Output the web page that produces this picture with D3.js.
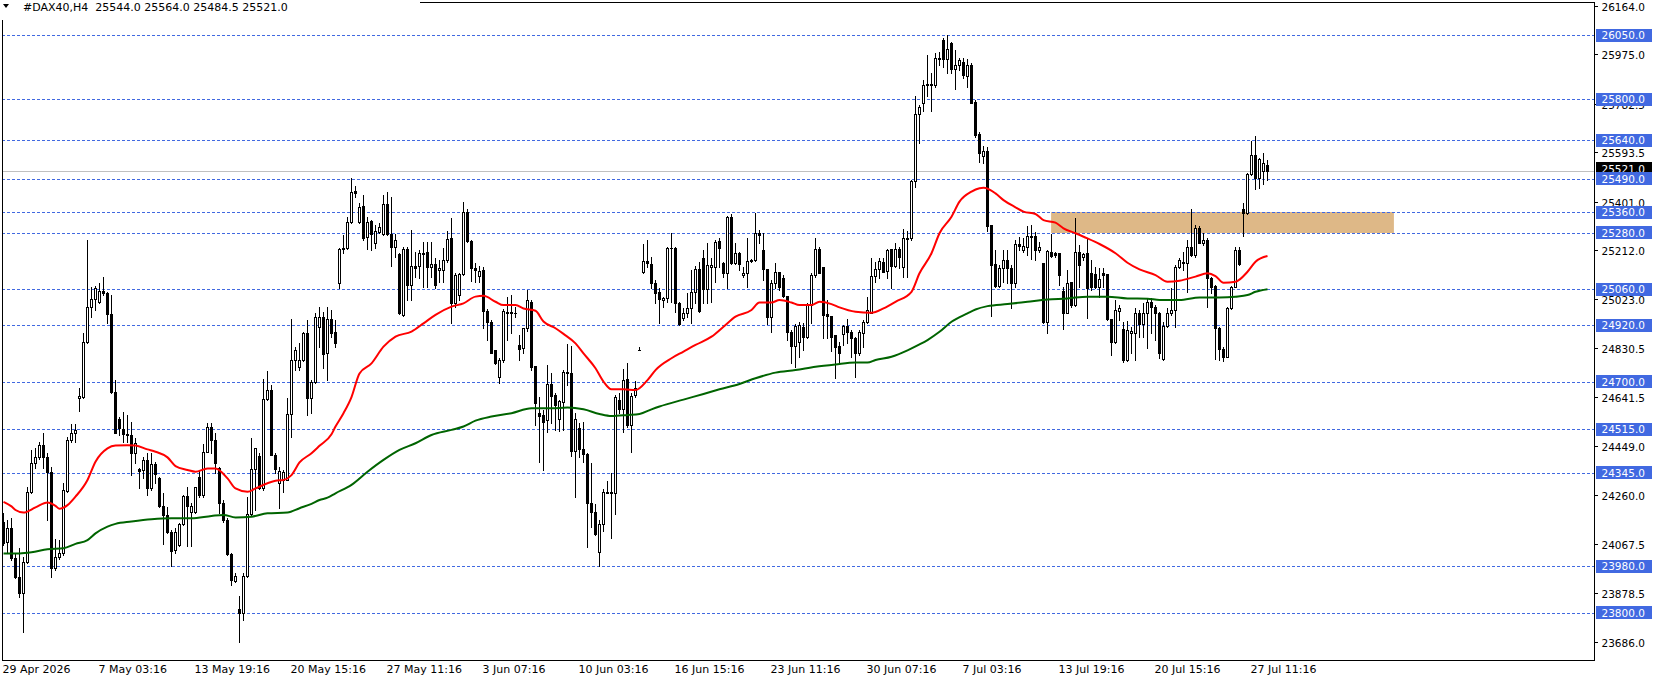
<!DOCTYPE html>
<html><head><meta charset="utf-8">
<script src="https://cdn.jsdelivr.net/npm/d3@7"></script>
<style>
html,body{margin:0;padding:0;background:#fff;}
svg{display:block;}
text{font-family:"DejaVu Sans",sans-serif;font-size:10.5px;}
text.big{font-size:11px;}
</style>
</head><body>
<svg id="c" width="1658" height="684"></svg>
<script>
// ---------- DATA ----------
const header = "#DAX40,H4  25544.0 25564.0 25484.5 25521.0";
const lastPrice = 25521.0;
// rows: [open, high, low, close], one per H4 bar
const ohlc = [
[24155,24187,24064,24070],[24077,24161,24031,24129],[24129,24168,24005,24012],[24012,24031,23934,23940],[23940,24051,23863,23878],
[23878,24018,23725,23999],[23999,24291,23992,24271],[24271,24434,24265,24384],[24384,24443,24362,24408],[24408,24466,24400,24453],
[24453,24501,24362,24408],[24408,24421,24161,24349],[24349,24369,23940,23973],[23973,24086,23966,24016],[24016,24083,24010,24031],
[24031,24304,24025,24278],[24275,24486,24271,24473],[24473,24535,24466,24499],[24499,24535,24466,24512],[24635,24674,24587,24644],
[24641,24888,24635,24856],[24856,25252,24852,24992],[24989,25070,24953,25020],[25020,25072,24979,25063],[25009,25083,25005,25053],
[25053,25106,25037,25044],[25044,25050,24927,24962],[24962,25037,24654,24661],[24661,24706,24499,24501],[24554,24564,24492,24518],
[24515,24583,24466,24496],[24496,24570,24466,24492],[24492,24544,24336,24421],[24421,24479,24384,24462],[24358,24362,24284,24353],
[24356,24405,24323,24395],[24395,24421,24259,24284],[24284,24421,24278,24378],[24378,24388,24304,24340],[24326,24330,24213,24216],
[24216,24265,24068,24181],[24181,24213,24109,24116],[24116,24122,23982,24042],[24044,24129,24031,24116],[24064,24148,24060,24146],
[24146,24259,24142,24255],[24255,24291,24060,24216],[24194,24226,24060,24216],[24194,24291,24187,24288],[24327,24356,24252,24257],
[24257,24457,24252,24427],[24427,24540,24427,24522],[24522,24538,24421,24473],[24473,24499,24343,24382],[24362,24369,24187,24226],
[24226,24239,24155,24161],[24161,24168,24025,24029],[24029,24031,23908,23927],[23925,23953,23921,23943],[23813,23865,23685,23798],
[23798,23953,23772,23943],[23943,24252,23940,24183],[24183,24479,24181,24358],[24358,24440,24200,24440],[24410,24421,24281,24284],
[24284,24709,24278,24631],[24631,24743,24628,24667],[24667,24687,24414,24414],[24414,24421,24343,24358],[24304,24369,24207,24352],
[24317,24356,24271,24349],[24317,24635,24317,24574],[24574,24943,24486,24784],[24784,24836,24745,24823],[24758,24849,24745,24784],
[24784,24895,24780,24888],[24888,24940,24570,24635],[24635,24706,24577,24700],[24700,24966,24693,24950],[24911,24992,24836,24950],
[24950,24972,24752,24806],[24810,24992,24706,24944],[24944,24979,24875,24891],[24895,24940,24836,24852],[25083,25219,25063,25215],
[25215,25271,25200,25219],[25219,25340,25215,25323],[25323,25492,25317,25440],[25442,25462,25420,25433],[25323,25397,25317,25381],
[25384,25427,25252,25258],[25262,25340,25215,25323],[25325,25330,25213,25275],[25239,25310,25219,25288],[25284,25317,25278,25304],
[25275,25427,25271,25391],[25391,25440,25271,25275],[25275,25420,25150,25226],[25223,25275,25187,25252],[25196,25200,24964,24966],
[24960,25223,24956,25215],[25215,25226,25018,25076],[25076,25291,25018,25150],[25150,25206,25109,25141],[25150,25213,25102,25200],
[25200,25245,25070,25197],[25206,25245,25070,25148],[25148,25245,25109,25158],[25158,25180,25063,25076],[25135,25174,25089,25141],
[25135,25219,25089,25174],[25174,25288,25167,25254],[25258,25336,24930,25005],[25005,25122,24992,25115],[25037,25122,25018,25118],
[25118,25401,25115,25362],[25362,25371,25243,25249],[25249,25252,25093,25141],[25141,25161,25089,25135],[25113,25150,25089,25131],
[25135,25148,24908,24976],[24976,24982,24862,24934],[24934,24940,24810,24813],[24823,24823,24769,24771],[24719,24791,24696,24784],
[24784,24982,24778,24976],[24966,25031,24862,24972],[24972,25037,24888,24966],[24969,24992,24953,24966],[24843,24882,24784,24826],
[24830,24908,24810,24908],[24908,25057,24899,25018],[25011,25018,24745,24758],[24761,24761,24531,24616],[24577,24641,24388,24566],
[24570,24590,24356,24544],[24550,24765,24505,24691],[24691,24732,24538,24645],[24648,24654,24512,24609],[24553,24628,24509,24626],
[24622,24745,24512,24736],[24732,24847,24687,24739],[24732,24839,24410,24431],[24431,24576,24252,24553],[24518,24540,24408,24436],
[24436,24544,24388,24418],[24418,24422,24055,24226],[24226,24382,24135,24194],[24191,24223,24103,24107],[24038,24161,23983,24144],
[24144,24282,24120,24269],[24269,24313,24265,24268],[24269,24345,24090,24265],[24265,24648,24183,24639],[24628,24654,24576,24592],
[24592,24748,24505,24706],[24709,24771,24525,24531],[24531,24657,24427,24644],[24648,24704,24641,24674],[24823,24836,24823,24823],
[25126,25235,25124,25171],[25171,25250,25145,25163],[25158,25187,25063,25085],[25085,25096,25005,25044],[25050,25065,24930,25020],
[25018,25031,24992,25024],[25024,25226,25011,25219],[25219,25280,25011,25222],[25222,25226,24972,25008],[25008,25011,24920,24923],
[24946,24985,24940,24966],[24966,25044,24953,24985],[24985,25135,24927,25048],[25048,25150,25008,25137],[25137,25167,24972,24976],
[25180,25213,25008,25060],[25060,25241,25008,25154],[25145,25180,25011,25154],[25145,25252,25089,25245],[25248,25258,25145,25219],
[25161,25167,25106,25124],[25124,25345,25063,25340],[25340,25353,25158,25161],[25161,25239,25158,25200],[25200,25206,25135,25158],
[25115,25148,25106,25124],[25124,25258,25070,25170],[25170,25176,25167,25174],[25174,25358,25170,25278],[25280,25291,25239,25271],
[25213,25278,25096,25139],[25139,25139,24924,24950],[24950,25096,24895,25083],[25083,25161,25063,25126],[25126,25128,25057,25070],
[25102,25115,25031,25034],[25034,25034,24862,24895],[24895,24901,24771,24839],[24839,24924,24756,24917],[24856,24933,24797,24920],
[24914,24927,24823,24875],[24875,25005,24869,24998],[24998,25122,24927,25115],[25115,25258,25106,25215],[25215,25226,25122,25124],
[25145,25148,24869,24960],[24963,25018,24869,24956],[24956,24956,24821,24875],[24882,24882,24713,24834],[24839,24856,24774,24813],
[24885,24920,24843,24917],[24917,24943,24849,24895],[24895,24901,24797,24869],[24869,24875,24719,24810],[24810,24901,24804,24895],
[24888,24940,24834,24933],[24933,25031,24927,24979],[24969,25180,24966,25111],[25111,25167,25089,25137],[25137,25180,25102,25171],
[25167,25180,25128,25128],[25131,25215,25102,25213],[25215,25215,25063,25150],[25150,25241,25148,25215],[25215,25223,25141,25187],
[25148,25293,25106,25258],[25254,25288,25109,25258],[25258,25485,25252,25483],[25483,25812,25459,25742],[25742,25777,25628,25771],
[25784,25875,25755,25855],[25855,25972,25812,25859],[25859,25901,25755,25855],[25855,25981,25846,25959],[25955,25985,25933,25959],
[26030,26037,25927,25955],[25955,26050,25901,25994],[26020,26024,25901,25916],[25916,25992,25838,25933],[25933,25959,25914,25953],
[25946,25959,25881,25894],[25890,25955,25849,25933],[25933,25942,25784,25786],[25790,25797,25654,25661],[25664,25673,25557,25592],
[25579,25618,25550,25598],[25598,25615,25288,25306],[25310,25310,24956,25154],[25158,25213,25070,25072],[25072,25154,25070,25141],
[25141,25213,25089,25174],[25174,25213,25083,25141],[25141,25154,24985,25085],[25085,25252,25070,25236],[25236,25265,25213,25228],
[25213,25258,25206,25228],[25226,25306,25193,25267],[25265,25310,25176,25267],[25267,25284,25174,25213],[25213,25245,25206,25223],
[25161,25161,24930,24933],[24933,25213,24891,25210],[25204,25275,25187,25189],[25200,25205,25185,25193],[25200,25200,25076,25115],
[25054,25070,24904,24968],[24968,25135,24966,25083],[25089,25089,24992,24998],[24998,25336,24994,25204],[25204,25232,25070,25154],
[25187,25200,25174,25196],[25200,25258,24946,25066],[25122,25174,25057,25067],[25119,25148,25063,25067],[25067,25141,25031,25098],
[25124,25141,25070,25115],[25119,25119,24940,24943],[24943,24943,24804,24856],[24856,25018,24849,24979],[24976,24999,24940,24986],
[24904,24934,24778,24784],[24784,24937,24780,24901],[24891,24914,24810,24899],[24891,24986,24784,24969],[24969,24979,24875,24924],
[24924,25008,24875,24966],[24966,25024,24830,25011],[25011,25024,24888,24992],[24989,24999,24862,24969],[24969,24973,24791,24810],
[24787,24934,24784,24917],[24917,24986,24914,24966],[24966,25063,24960,24979],[24979,25154,24914,25148],[25145,25180,25141,25174],
[25163,25206,25135,25165],[25163,25252,25050,25226],[25226,25371,25189,25193],[25193,25310,25187,25297],[25300,25306,25239,25241],
[25241,25278,25232,25252],[25252,25258,24992,25102],[25102,25108,25044,25070],[25073,25076,24787,24908],[24908,24914,24784,24826],
[24826,24836,24780,24797],[24797,24992,24795,24986],[24986,25073,24982,25070],[25070,25226,25070,25213],[25213,25226,25154,25158],
[25371,25394,25267,25355],[25355,25511,25353,25509],[25509,25639,25505,25583],[25583,25657,25449,25492],[25492,25570,25453,25566],
[25522,25592,25470,25550],[25544,25564,25484.5,25521]
];
// moving averages: [bar index, value]
const redMA = [
[0,24232],[2,24214],[3,24200],[5,24190],[8,24210],[11,24229],[13,24216],[14,24205],[16,24219],[18,24252],[21,24317],[23,24388],
[26,24440],[28,24451],[31,24452],[33,24451],[36,24436],[38,24427],[41,24405],[43,24371],[46,24356],[48,24349],[51,24362],[53,24362],
[56,24323],[58,24284],[61,24271],[63,24284],[66,24304],[68,24314],[70,24317],[72,24336],[74,24385],[77,24421],[79,24450],[82,24495],
[83,24525],[85,24577],[87,24640],[89,24732],[92,24771],[95,24836],[98,24875],[102,24895],[105,24927],[108,24960],[112,24992],[115,25005],
[118,25031],[120,25034],[123,25011],[125,24998],[128,24998],[130,24985],[133,24976],[135,24934],[138,24908],[140,24886],[143,24849],
[145,24810],[148,24752],[150,24700],[152,24670],[155,24670],[158,24667],[161,24706],[163,24745],[167,24791],[170,24817],[173,24843],
[177,24875],[180,24914],[183,24953],[187,24979],[189,25008],[192,25008],[194,25018],[197,25008],[199,24998],[202,24998],[204,25011],
[207,25002],[209,24989],[213,24972],[217,24968],[220,24985],[223,25011],[227,25050],[229,25122],[232,25200],[234,25278],[237,25342],
[239,25401],[242,25440],[244,25453],[245,25455],[248,25433],[250,25407],[253,25379],[255,25362],[258,25353],[260,25329],[263,25319],
[265,25297],[268,25278],[271,25258],[274,25236],[278,25200],[281,25163],[284,25137],[288,25115],[291,25089],[294,25093],[298,25109],
[301,25122],[303,25111],[305,25085],[308,25089],[311,25128],[313,25167],[316,25189]
];
const greenMA = [
[0,24031],[4,24031],[7,24035],[11,24047],[15,24051],[18,24068],[21,24083],[23,24109],[26,24135],[28,24146],[32,24155],[37,24164],
[42,24168],[47,24168],[52,24177],[55,24181],[58,24171],[62,24174],[66,24187],[71,24190],[74,24207],[77,24224],[79,24239],[81,24248],
[83,24265],[87,24298],[91,24349],[95,24395],[99,24434],[103,24460],[107,24492],[112,24512],[115,24525],[118,24548],[122,24564],
[127,24577],[132,24596],[137,24596],[141,24599],[145,24592],[149,24574],[152,24566],[156,24570],[159,24574],[162,24592],[164,24603],
[170,24630],[175,24652],[179,24670],[184,24691],[188,24713],[193,24735],[198,24745],[203,24758],[208,24767],[213,24774],[216,24774],
[218,24784],[222,24797],[226,24822],[229,24845],[231,24862],[234,24894],[237,24933],[241,24966],[243,24981],[246,24994],[251,25002],
[256,25011],[261,25020],[266,25024],[271,25031],[276,25031],[281,25024],[286,25023],[289,25018],[294,25018],[299,25028],[304,25028],
[308,25031],[311,25037],[313,25050],[316,25060]
];
const levels = [26050,25800,25640,25490,25360,25280,25060,24920,24700,24515,24345,23980,23800];
const axisTicks = [26164.0,25975.0,25782.5,25593.5,25401.0,25212.0,25023.0,24830.5,24641.5,24449.0,24260.0,24067.5,23878.5,23686.0];
const dateLabels = ["29 Apr 2026","7 May 03:16","13 May 19:16","20 May 15:16","27 May 11:16","3 Jun 07:16","10 Jun 03:16",
  "16 Jun 15:16","23 Jun 11:16","30 Jun 07:16","7 Jul 03:16","13 Jul 19:16","20 Jul 15:16","27 Jul 11:16"];
const barsPerLabel = 24;
const zone = {top:25360, bottom:25280, fromBar:261.9, toBar:347.6};

// ---------- LAYOUT ----------
const L=2, T=2, R=1594, B=660;
const svg = d3.select("#c");
const x = d3.scaleLinear().domain([0,1]).range([3.5,7.5]);
const y = d3.scaleLinear().domain([23800,26050]).range([612.7,35]);
const py = v => Math.round(y(v));
const fmt = d3.format(".1f");
const BLUE = "#4169E1";

svg.append("rect").attr("width",1658).attr("height",684).attr("fill","#fff");

// zone rectangle
svg.append("rect").attr("x",x(zone.fromBar)).attr("y",py(zone.top))
  .attr("width",x(zone.toBar)-x(zone.fromBar)).attr("height",py(zone.bottom)-py(zone.top))
  .attr("fill","#DEB887");

// level lines
svg.append("g").selectAll("line").data(levels).join("line")
  .attr("x1",L).attr("x2",R).attr("y1",d=>py(d)+0.5).attr("y2",d=>py(d)+0.5)
  .attr("stroke",BLUE).attr("stroke-width",1).attr("stroke-dasharray","3,2").attr("shape-rendering","crispEdges");

// price line
svg.append("line").attr("x1",L).attr("x2",R).attr("y1",py(lastPrice)+0.5).attr("y2",py(lastPrice)+0.5)
  .attr("stroke","#C0C0C0").attr("shape-rendering","crispEdges");

// candles
const cg = svg.append("g").attr("shape-rendering","crispEdges");
const cand = cg.selectAll("g").data(ohlc).join("g");
cand.append("line")
  .attr("x1",(d,i)=>Math.floor(x(i))+0.5).attr("x2",(d,i)=>Math.floor(x(i))+0.5)
  .attr("y1",d=>py(Math.max(d[1],d[0],d[3])))
  .attr("y2",d=>py(Math.min(d[2],d[0],d[3]))+1)
  .attr("stroke","#000");
cand.each(function(d,i){
  const [o,h,l,c]=d, g=d3.select(this);
  const cx=Math.floor(x(i))+0.5;
  const top=py(Math.max(o,c)), bot=py(Math.min(o,c));
  if (bot-top<1){
    g.append("rect").attr("x",cx-1.5).attr("y",top).attr("width",3).attr("height",1).attr("fill","#000");
  } else if (c>=o){
    g.append("rect").attr("x",cx-1).attr("y",top+0.5).attr("width",2).attr("height",bot-top)
      .attr("fill","#fff").attr("stroke","#000");
  } else {
    g.append("rect").attr("x",cx-1.5).attr("y",top).attr("width",3).attr("height",bot-top+1).attr("fill","#000");
  }
});

// moving averages
const line = d3.line().x(d=>x(d[0])).y(d=>y(d[1])).curve(d3.curveMonotoneX);
svg.append("path").attr("d",line(greenMA)).attr("fill","none").attr("stroke","#006400").attr("stroke-width",2);
svg.append("path").attr("d",line(redMA)).attr("fill","none").attr("stroke","#FF0000").attr("stroke-width",2);

// border
svg.append("rect").attr("x",L+0.5).attr("y",T+0.5).attr("width",R-L).attr("height",B-T)
  .attr("fill","none").attr("stroke","#000").attr("shape-rendering","crispEdges");

// header
svg.append("rect").attr("x",0).attr("y",0).attr("width",420).attr("height",20).attr("fill","#fff");
svg.append("path").attr("d","M3,4 L9,4 L6,8 Z").attr("fill","#000");
svg.append("text").attr("class","big").attr("x",23).attr("y",11).style("white-space","pre").attr("fill","#000").text(header);

// right axis ticks & labels
const ax = svg.append("g");
axisTicks.forEach(v=>{
  const yy=py(v)+0.5;
  ax.append("line").attr("x1",R).attr("x2",R+4).attr("y1",yy).attr("y2",yy).attr("stroke","#000").attr("shape-rendering","crispEdges");
  ax.append("text").attr("x",1601.5).attr("y",yy+4).attr("fill","#000").text(fmt(v));
});

// current price label
{
  const yy=y(lastPrice)-2;
  svg.append("rect").attr("x",1596).attr("y",Math.round(yy-6.5)).attr("width",56).attr("height",13).attr("fill","#000");
  svg.append("text").attr("x",1601.5).attr("y",yy+4).attr("fill","#fff").text(fmt(lastPrice));
}
// level labels
const lg = svg.append("g");
levels.forEach(v=>{
  const yy=y(v);
  lg.append("rect").attr("x",1596).attr("y",Math.round(yy-6.5)).attr("width",56).attr("height",13).attr("fill",BLUE);
  lg.append("text").attr("x",1601.5).attr("y",yy+4).attr("fill","#fff").text(fmt(v));
});

// bottom time labels
svg.append("g").selectAll("text").data(dateLabels).join("text").attr("class","big")
  .attr("x",(d,i)=>Math.floor(x(i*barsPerLabel))-0.5).attr("y",673).attr("fill","#000").text(d=>d);
</script>
</body></html>
